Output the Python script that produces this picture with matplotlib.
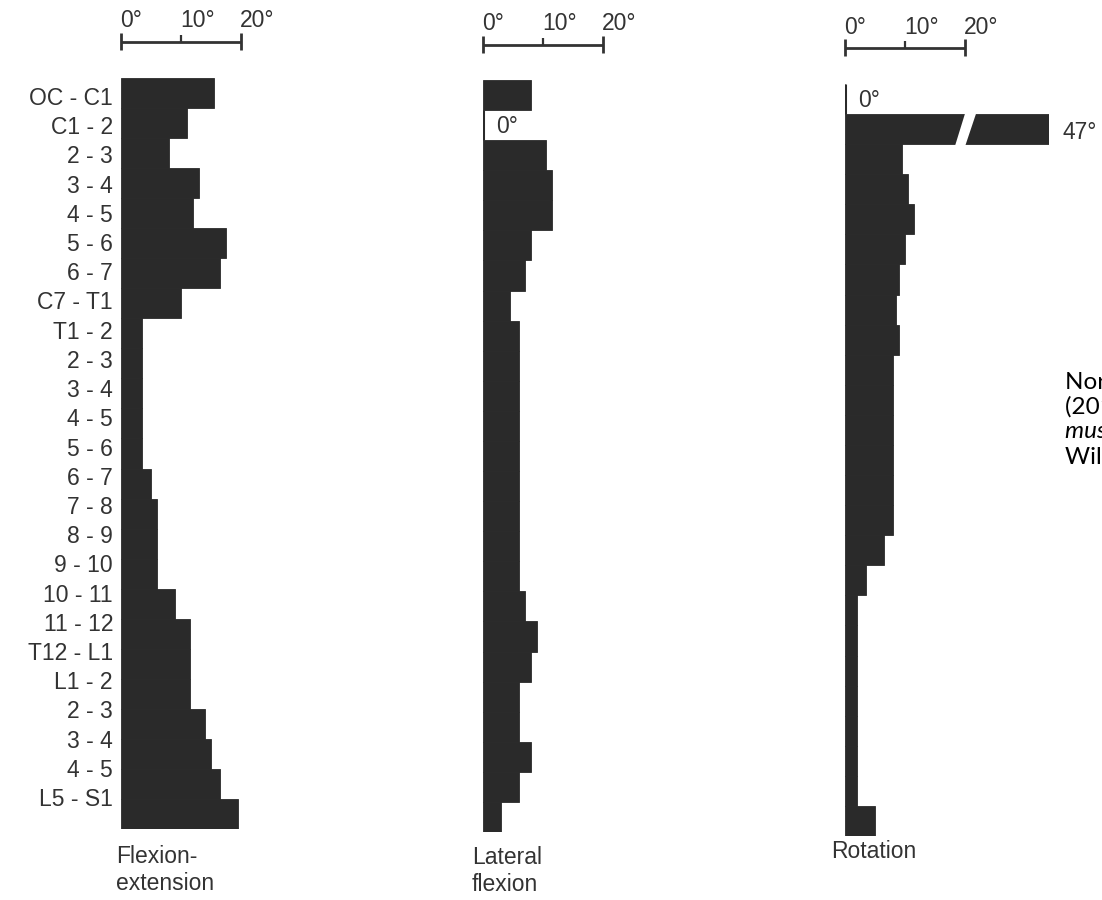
import matplotlib
matplotlib.use('Agg')
import matplotlib.pyplot as plt
import matplotlib.transforms as mtransforms
from matplotlib.patches import Polygon

# ---------------- data ----------------
levels = ["OC - C1", "C1 - 2", "2 - 3", "3 - 4", "4 - 5", "5 - 6", "6 - 7", "C7 - T1",
          "T1 - 2", "2 - 3", "3 - 4", "4 - 5", "5 - 6", "6 - 7", "7 - 8", "8 - 9",
          "9 - 10", "10 - 11", "11 - 12", "T12 - L1", "L1 - 2", "2 - 3", "3 - 4",
          "4 - 5", "L5 - S1"]
flexion_extension = [15.5, 11, 8, 13, 12, 17.5, 16.5, 10,
                     3.5, 3.5, 3.5, 3.5, 3.5, 5, 6, 6,
                     6, 9, 11.5, 11.5, 11.5, 14, 15,
                     16.5, 19.5]
lateral_flexion = [8, 0, 10.5, 11.5, 11.5, 8, 7, 4.5,
                   6, 6, 6, 6, 6, 6, 6, 6,
                   6, 7, 9, 8, 6, 6, 8,
                   6, 3]
rotation = [0, 47, 9.5, 10.5, 11.5, 10, 9, 8.5,
            9, 8, 8, 8, 8, 8, 8, 6.5,
            3.5, 2, 2, 2, 2, 2, 2,
            2, 5]
scale_ticks = [0, 10, 20]
scale_labels = ["0°", "10°", "20°"]
titles = ["Flexion-\nextension", "Lateral\nflexion", "Rotation"]
citation = ["Nordin, M. & Frankel, V. H.",
            "(2012). Basic biomechanics of the",
            "musculoskeletal system. Lippincott",
            "Williams & Wilkins."]

# ---------------- style / layout ----------------
plt.rcParams['font.family'] = ['Liberation Sans', 'DejaVu Sans']
W, H = 1102, 900
fig = plt.figure(figsize=(W / 100, H / 100), dpi=100)
fig.patch.set_facecolor('white')

PXD = 6.0          # pixels per degree
BAR = '#2a2a2a'
TXT = '#333333'
FS = 16.5

def fx(px):
    return px / W

def fy(py):
    return 1 - py / H

panels = [
    dict(vals=flexion_extension, x0=121, top=78, bot=829, xmax=22.0, sy=41.7,
         title=titles[0], tx=116, ty=845),
    dict(vals=lateral_flexion, x0=483, top=80, bot=832, xmax=22.0, sy=45.0,
         title=titles[1], tx=472, ty=846),
    dict(vals=rotation, x0=845, top=84, bot=836, xmax=34.0, sy=48.3,
         title=titles[2], tx=831, ty=840),
]

n = len(levels)
ypos = list(range(n))

for k, p in enumerate(panels):
    ax = fig.add_axes([fx(p['x0']), fy(p['bot']), p['xmax'] * PXD / W,
                       (p['bot'] - p['top']) / H])
    ax.set_xlim(0, p['xmax'])
    ax.set_ylim(n - 0.5, -0.5)
    ax.axis('off')

    ax.barh(ypos, p['vals'], height=1.0, left=0, color=BAR, edgecolor=BAR,
            linewidth=0.6)

    # zero-valued segments: thin line plus "0°" label
    for i, v in enumerate(p['vals']):
        if v == 0:
            ax.vlines(0, i - 0.5, i + 0.5, color=BAR, lw=2.2)
            ax.text(v + 2.2, i + 0.05, "0°", ha='left', va='center',
                    fontsize=FS, color=TXT)
        if v > p['xmax']:
            # broken bar: white slanted gap and value label
            gap = Polygon([(20.1, i - 0.58), (21.95, i - 0.58),
                           (20.0, i + 0.58), (18.3, i + 0.58)],
                          closed=True, facecolor='white', edgecolor='none',
                          zorder=5)
            ax.add_patch(gap)
            ax.text(p['xmax'] + 2.3, i + 0.1, f"{v:g}°", ha='left',
                    va='center', fontsize=FS, color=TXT, clip_on=False)

    # scale bar above each panel
    tr = mtransforms.blended_transform_factory(ax.transData, fig.transFigure)
    sy = p['sy']
    ax.plot([scale_ticks[0], scale_ticks[-1]], [fy(sy), fy(sy)], transform=tr,
            color=TXT, lw=2, clip_on=False, solid_capstyle='butt')
    for t, lab in zip(scale_ticks, scale_labels):
        if t in (scale_ticks[0], scale_ticks[-1]):
            ax.plot([t, t], [fy(sy - 9), fy(sy + 8)], transform=tr, color=TXT,
                    lw=2, clip_on=False, solid_capstyle='butt')
        else:
            ax.plot([t, t], [fy(sy - 7), fy(sy)], transform=tr, color=TXT,
                    lw=1.6, clip_on=False, solid_capstyle='butt')
        ax.text(t - 1 / PXD, fy(sy - 14.5), lab, transform=tr, ha='left',
                va='baseline', fontsize=FS, color=TXT)

    # panel title below
    fig.text(fx(p['tx']), fy(p['ty']), p['title'], ha='left', va='top',
             fontsize=FS, color=TXT, linespacing=1.2)

# level labels (left of first panel)
axl = fig.add_axes([fx(113), fy(811.6), 0.0005, (811.6 - 81.4) / H])
axl.set_ylim(n - 0.5, -0.5)
axl.set_yticks(ypos)
axl.set_yticklabels(levels)
axl.set_xticks([])
axl.tick_params(axis='y', length=0, pad=0, labelsize=FS, labelcolor=TXT)
for s in axl.spines.values():
    s.set_visible(False)
axl.patch.set_alpha(0)

# citation text (cut by the right edge, as in the reference)
cy = [382, 407, 432, 457]
styles = ['normal', 'normal', 'italic', 'normal']
for line, y, st in zip(citation, cy, styles):
    fig.text(fx(1065), fy(y), line, ha='left', va='center', fontsize=17.5,
             style=st, color='black', family=['Lato', 'DejaVu Sans'])

fig.savefig('out.png', dpi=100, facecolor='white')
